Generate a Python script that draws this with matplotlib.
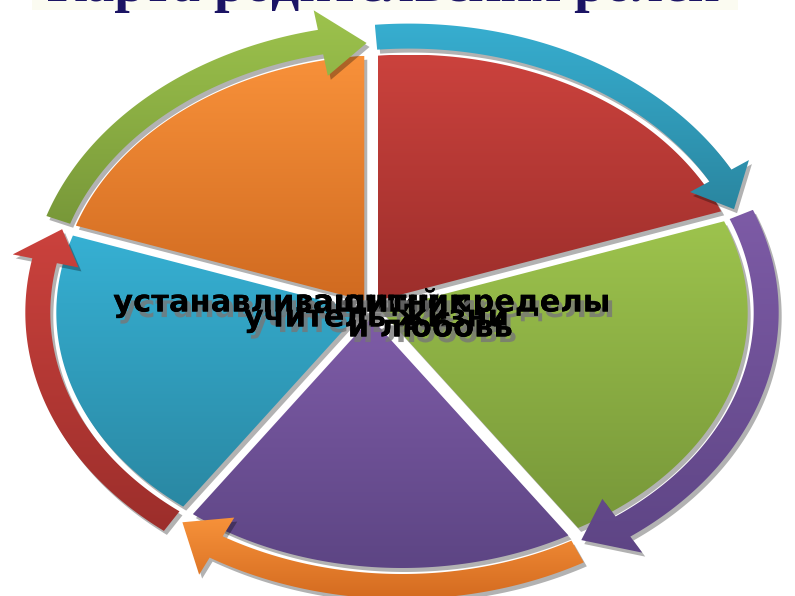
import numpy as np
import matplotlib
matplotlib.use("Agg")
import matplotlib.pyplot as plt
from matplotlib.patches import Polygon, Rectangle
from matplotlib.colors import LinearSegmentedColormap
import matplotlib.patheffects as pe

# ---------------- data ----------------
title = "Карта родительских ролей"
values = [1, 1, 1, 1, 1]
wedge_top = ["#CB423D", "#9DC34D", "#7E5CA7", "#36B0D3", "#F8913A"]
wedge_bot = ["#9C2E2B", "#779739", "#5D4584", "#2A88A3", "#D06A20"]
arrow_top = ["#37AED0", "#7D5BA6", "#F7923A", "#CB423D", "#9DC34D"]
arrow_bot = ["#2A86A0", "#5E4585", "#D46B20", "#9C2E2B", "#789839"]
labels = ["устанавливающий пределы", "защитник", "учитель жизни", "и любовь"]
label_xy = [(361, 303), (382, 303), (376, 318), (430, 328)]

# ---------------- figure ----------------
W, H = 795, 596
fig = plt.figure(figsize=(7.95, 5.96), dpi=100)
ax = fig.add_axes([0, 0, 1, 1])
ax.set_xlim(0, W)
ax.set_ylim(H, 0)
ax.axis("off")

A = np.array([371.0, 308.0])   # pie apex
E = np.array([402.0, 310.0])   # ellipse centre
rx, ry, k = 336.0, 248.0, 0.8
explode = 10.0


def ray_theta(t):
    d = np.array([np.cos(t), -k * np.sin(t)])
    d /= np.hypot(*d)
    o = A - E
    a = (d[0] / rx) ** 2 + (d[1] / ry) ** 2
    b = 2 * (o[0] * d[0] / rx ** 2 + o[1] * d[1] / ry ** 2)
    c = (o[0] / rx) ** 2 + (o[1] / ry) ** 2 - 1
    s = (-b + np.sqrt(b * b - 4 * a * c)) / (2 * a)
    P = A + s * d
    return np.arctan2(-(P[1] - E[1]) / ry, (P[0] - E[0]) / rx)


def ell(th, d=0.0):
    return np.column_stack([E[0] + (rx + d) * np.cos(th), E[1] - (ry + d) * np.sin(th)])


def grad_fill(poly, c1, c2, z):
    cmap = LinearSegmentedColormap.from_list("g", [c1, c2])
    patch = Polygon(poly, closed=True, facecolor="none", edgecolor="none", zorder=z)
    ax.add_patch(patch)
    x0, y0 = poly.min(axis=0)
    x1, y1 = poly.max(axis=0)
    im = ax.imshow(np.linspace(0, 1, 256).reshape(-1, 1), cmap=cmap, aspect="auto",
                   extent=(x0, x1, y0, y1), origin="lower", zorder=z, interpolation="bilinear")
    im.set_clip_path(patch)


def shadow(poly, z, off=(3, 4), alpha=0.3):
    ax.add_patch(Polygon(poly + np.array(off), closed=True, facecolor="black",
                         edgecolor="none", alpha=alpha, zorder=z))


total = float(sum(values))
cum = np.concatenate([[0], np.cumsum(values)]) / total
bounds = np.deg2rad(90 - 360 * cum)

wedges, arrows = [], []
for i in range(len(values)):
    t1, t2 = bounds[i], bounds[i + 1]
    th1 = ray_theta(t1)
    th2 = ray_theta(t2)
    th2 = th1 - ((th1 - th2) % (2 * np.pi))
    tm = (t1 + t2) / 2
    dv = np.array([np.cos(tm), -k * np.sin(tm)])
    off = dv / np.hypot(*dv) * explode
    arc = ell(np.linspace(th1, th2, 120))
    wedge = np.vstack([A, arc]) + off
    wedges.append(wedge)

    # curved arrow
    d_in, d_out = 6.0, 31.0
    hl = 0.12
    thb = th2 + hl
    body_t = np.linspace(th1, thb, 120)
    outer = ell(body_t, d_out)
    inner = ell(body_t[::-1], d_in)
    hb_out = ell(np.array([thb]), d_out + 20)
    hb_in = ell(np.array([thb]), d_in - 22)
    tip = ell(np.array([th2 - 0.01]), (d_in + d_out) / 2 - 6)
    arrow = np.vstack([outer, hb_out, tip, hb_in, inner]) + off
    arrows.append(arrow)

for w in wedges:
    shadow(w, 1)
for i, w in enumerate(wedges):
    grad_fill(w, wedge_top[i], wedge_bot[i], 2)
for a in arrows:
    shadow(a, 3, alpha=0.3)
for i, a in enumerate(arrows):
    grad_fill(a, arrow_top[i], arrow_bot[i], 4)

# labels
for txt, (x, y) in zip(labels, label_xy):
    ax.text(x, y, txt, ha="center", va="center", fontsize=22, fontweight="bold",
            color="black", family="DejaVu Sans", zorder=10,
            path_effects=[pe.withSimplePatchShadow(offset=(3, -4), shadow_rgbFace="#777777", alpha=0.8),
                          pe.Normal()])

# title band (cut by top edge)
ax.add_patch(Rectangle((32, -20), 706, 30, facecolor="#FBFBF1", edgecolor="none", zorder=0))
ax.text(383, 1, title, ha="center", va="baseline", fontsize=40, fontweight="bold",
        family="Liberation Serif", color="#1B1464", zorder=1)

fig.savefig("out.png", dpi=100)
